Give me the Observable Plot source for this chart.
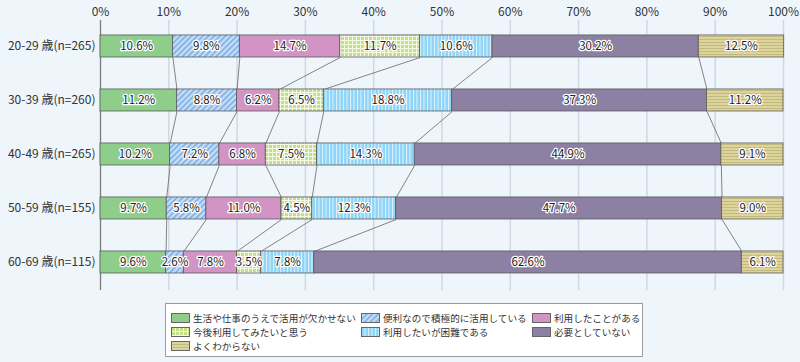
<!DOCTYPE html>
<html><head><meta charset="utf-8">
<script src="https://cdn.jsdelivr.net/npm/d3@7"></script>
<script src="https://cdn.jsdelivr.net/npm/@observablehq/plot@0.6"></script>
<style>
body{margin:0;background:#eef6fc;font-family:"Noto Sans CJK JP","Noto Sans",sans-serif;}
#wrap{position:relative;width:800px;height:362px;overflow:hidden;}
#legend{position:absolute;left:165px;top:303px;width:478px;height:54px;border:1px solid #9a9a9a;background:#fff;box-sizing:border-box;}
.item{position:absolute;display:flex;align-items:center;font-size:9.6px;color:#333;line-height:14px;white-space:nowrap;}
.item svg{margin-right:3px;}
</style></head><body>
<svg width="0" height="0" style="position:absolute">
<defs>
<pattern id="p0" width="4" height="4" patternUnits="userSpaceOnUse"><rect width="4" height="4" fill="#8fcd8b"/></pattern>
<pattern id="p1" width="4" height="4" patternUnits="userSpaceOnUse" patternTransform="rotate(45)">
  <rect width="4" height="4" fill="#c6dff7"/><rect width="1.7" height="4" fill="#7fafe6"/></pattern>
<pattern id="p2" width="4" height="4" patternUnits="userSpaceOnUse"><rect width="4" height="4" fill="#d294c5"/></pattern>
<pattern id="p3" width="4" height="4" patternUnits="userSpaceOnUse">
  <rect width="4" height="4" fill="#c5df88"/><rect width="1" height="4" fill="#f4f9e6"/><rect width="4" height="1" fill="#f4f9e6"/></pattern>
<pattern id="p4" width="3.5" height="4" patternUnits="userSpaceOnUse">
  <rect width="3.5" height="4" fill="#8ed4f6"/><rect width="1" height="4" fill="#dff3fd"/></pattern>
<pattern id="p5" width="4" height="4" patternUnits="userSpaceOnUse"><rect width="4" height="4" fill="#8c80a3"/></pattern>
<pattern id="p6" width="4" height="3" patternUnits="userSpaceOnUse">
  <rect width="4" height="3" fill="#ddd49d"/><rect width="4" height="1" fill="#c4b97d"/></pattern>
</defs></svg>
<div id="wrap"><div id="chart"></div><div id="legend"></div></div>
<script>
const ages = ["20-29 歳(n=265)","30-39 歳(n=260)","40-49 歳(n=265)","50-59 歳(n=155)","60-69 歳(n=115)"];
const cats = ["生活や仕事のうえで活用が欠かせない","便利なので積極的に活用している","利用したことがある","今後利用してみたいと思う","利用したいが困難である","必要としていない","よくわからない"];
const v2029 = [10.6, 9.8, 14.7, 11.7, 10.6, 30.2, 12.5];
const v3039 = [11.2, 8.8, 6.2, 6.5, 18.8, 37.3, 11.2];
const v4049 = [10.2, 7.2, 6.8, 7.5, 14.3, 44.9, 9.1];
const v5059 = [9.7, 5.8, 11.0, 4.5, 12.3, 47.7, 9.0];
const v6069 = [9.6, 2.6, 7.8, 3.5, 7.8, 62.6, 6.1];
const xTicks = [0,10,20,30,40,50,60,70,80,90,100];
const fills = ["url(#p0)","url(#p1)","url(#p2)","url(#p3)","url(#p4)","url(#p5)","url(#p6)"];

const values = [v2029, v3039, v4049, v5059, v6069];
const rows = [];
const cums = [];
values.forEach((vals, i) => {
  let c = 0; const cum = [];
  vals.forEach((v, j) => { rows.push({row: i, cat: cats[j], v, x1: c, x2: c + v}); c += v; cum.push(c); });
  cums.push(cum);
});
const links = [];
for (let i = 0; i < values.length - 1; i++)
  for (let j = 0; j < cats.length - 1; j++)
    links.push({i, a: cums[i][j], b: cums[i+1][j]});
const h = 0.204;

const plot = Plot.plot({
  width: 800, height: 290,
  marginLeft: 100, marginRight: 17, marginTop: 20, marginBottom: 0,
  style: {background: "transparent", color: "#333", fontFamily: '"Noto Sans CJK JP", sans-serif'},
  x: {domain: [0, 100]},
  y: {domain: [-0.481, 4.519], reverse: true},
  color: {domain: cats, range: fills},
  marks: [
    Plot.ruleX(xTicks, {stroke: "#d2d7df", strokeWidth: 1.5}),
    Plot.ruleX([0], {stroke: "#7d7d7d", strokeWidth: 1.2}),
    Plot.link(links, {x1: "a", x2: "b", y1: d => d.i + h, y2: d => d.i + 1 - h, stroke: "#666", strokeWidth: 0.8}),
    Plot.rect(rows, {x1: "x1", x2: "x2", y1: d => d.row - h, y2: d => d.row + h, fill: "cat", stroke: "#5a5a5a", strokeWidth: 0.8}),
    Plot.text(rows, {x: d => (d.x1 + d.x2) / 2, y: "row", text: d => d.v.toFixed(1) + "%", fill: "#222", stroke: "white", strokeWidth: 2.5, paintOrder: "stroke", fontSize: 11.5}),
    Plot.axisX({anchor: "top", ticks: xTicks, tickSize: 0, tickPadding: 5, tickFormat: d => d + "%", fontSize: 12, label: null}),
    Plot.axisY({ticks: [0,1,2,3,4], tickSize: 0, tickPadding: 5, tickFormat: i => ages[i], fontSize: 12, label: null})
  ]
});
document.getElementById("chart").appendChild(plot);

const legend = document.getElementById("legend");
const colX = [5, 195, 366];
cats.forEach((c, k) => {
  const col = k % 3, r = Math.floor(k / 3);
  const div = document.createElement("div");
  div.className = "item";
  div.style.left = colX[col] + "px";
  div.style.top = (7 + r * 14) + "px";
  div.innerHTML = `<svg width="19" height="10"><rect x="0.5" y="0.5" width="18" height="9" fill="${fills[k]}" stroke="#666" stroke-width="1"/></svg><span>${c}</span>`;
  legend.appendChild(div);
});
</script>
</body></html>
